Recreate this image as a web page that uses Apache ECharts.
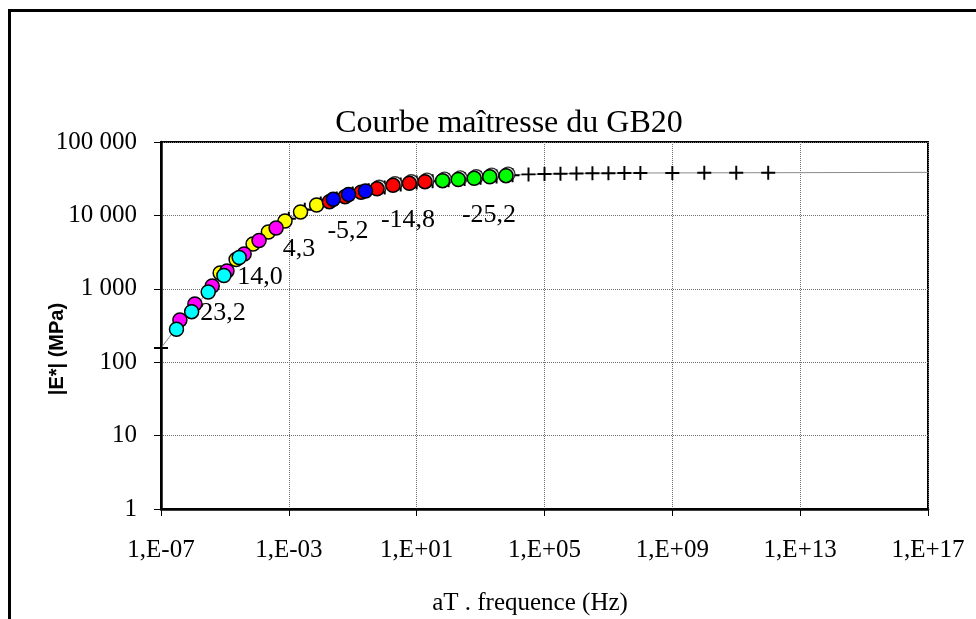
<!DOCTYPE html>
<html>
<head>
<meta charset="utf-8">
<script src="https://cdn.jsdelivr.net/npm/echarts@6/dist/echarts.min.js"></script>
<style>
  html, body { margin: 0; padding: 0; background: #fff; }
  #chart { width: 976px; height: 619px; }
</style>
</head>
<body>
<div id="chart"></div>
<script>
// Courbe maîtresse du GB20 : |E*| (MPa) en fonction de aT . fréquence (Hz)

// Mesures par température d'essai (fréquence réduite en Hz, module en MPa)
const cyanF = [3.05e-7, 9.1e-7, 3.0e-6, 9.3e-6, 2.8e-5];
const cyanE = [281, 488, 904, 1518, 2670];

const magentaF = [3.9e-7, 1.15e-6, 4.0e-6, 1.16e-5, 4.0e-5, 1.17e-4, 4.0e-4];
const magentaE = [376, 621, 1092, 1748, 2980, 4550, 6730];

const yellowF = [7.1e-6, 2.24e-5, 7.6e-5, 2.29e-4, 7.6e-4, 2.32e-3, 7.4e-3];
const yellowE = [1641, 2507, 4077, 5940, 8390, 11130, 13860];

const blueF = [0.0245, 0.074, 0.25];
const blueE = [16570, 19270, 21500];

const redF = [0.0186, 0.0575, 0.182, 0.575, 1.82, 5.9, 18.2];
const redE = [15380, 17990, 20650, 23030, 25700, 27370, 28790];

const greenF = [64.6, 200, 631, 1930, 6240];
const greenE = [29700, 30840, 32000, 33660, 34750];

// Second essai (cercles vides, en arrière-plan)
const repeatF = [0.67, 2.1, 6.8, 21.0, 74.5, 230, 728, 2225, 7200];
const repeatE = [24200, 27000, 28750, 30240, 31200, 32400, 33600, 35360, 36500];

// Modèle (croix + trait fin)
const modelF = [1e-7, 3.16e-7, 1e-6, 3.16e-6, 1e-5, 3.16e-5, 1e-4, 3.16e-4, 1e-3, 3.16e-3,
  1e-2, 3.16e-2, 1e-1, 3.16e-1, 1, 3.16, 10, 31.6, 100, 316, 1e3, 3.16e3, 1e4, 3.16e4,
  1e5, 3.16e5, 1e6, 3.16e6, 1e7, 3.16e7, 1e8, 1e9, 1e10, 1e11, 1e12, 1e17];
const modelE = [156, 300, 540, 930, 1580, 2700, 4300, 6350, 9000, 11900,
  14500, 17000, 19900, 22000, 24000, 26400, 28000, 29200, 30200, 31300, 32600, 34000, 35300, 36200,
  36700, 37000, 37300, 37500, 37600, 37700, 37800, 37900, 38000, 38100, 38150, 38600];
const modelMarkerMaxF = 1e12;

// Étiquettes de température
const tempLabels = ['23,2', '14,0', '4,3', '-5,2', '-14,8', '-25,2'];

// Graduations
const xTickStep = 4;
const yTickStep = 1;

const serif = "'Times New Roman', 'Liberation Serif', serif";

function pairs(fs, es) { return fs.map((f, i) => [f, es[i]]); }

function fmtX(v) {
  const e = Math.round(Math.log10(v));
  const s = Math.abs(e) < 10 ? '0' + Math.abs(e) : '' + Math.abs(e);
  return '1,E' + (e < 0 ? '-' : '+') + s;
}
function fmtY(v) {
  const n = Math.round(v);
  return String(n).replace(/\B(?=(\d{3})+(?!\d))/g, ' ');
}

const plusPath = 'path://M0,4.3H10V5.7H0Z M4.3,0H5.7V10H4.3Z';

function circleSeries(name, fs, es, color) {
  return {
    name, type: 'scatter', data: pairs(fs, es),
    symbol: 'circle', symbolSize: 14,
    itemStyle: { color, borderColor: '#000', borderWidth: 1.5, opacity: 1 },
    emphasis: { disabled: true }, silent: true
  };
}

const modelData = modelF.map((f, i) => {
  const item = { value: [f, modelE[i]] };
  if (f > modelMarkerMaxF) item.symbol = 'none';
  return item;
});

const chart = echarts.init(document.getElementById('chart'), null, { renderer: 'canvas' });

const labelPos = [[223, 313], [260, 277], [299, 249], [348, 231], [408, 220], [489, 215]];

chart.setOption({
  animation: false,
  backgroundColor: '#fff',
  grid: {
    left: 161, right: 48, top: 142, bottom: 110,
    show: true, borderColor: '#000', borderWidth: 2, backgroundColor: 'transparent'
  },
  xAxis: {
    type: 'log', logBase: 10, min: 1e-7, max: 1e17, interval: xTickStep,
    axisLine: { show: true, onZero: false, lineStyle: { color: '#000', width: 2.5 } },
    axisTick: { show: true, length: 7, lineStyle: { color: '#000', width: 1 } },
    minorTick: { show: false },
    axisLabel: { formatter: fmtX, fontFamily: serif, fontSize: 25, color: '#000', margin: 29 },
    splitLine: { show: true, lineStyle: { type: 'dotted', color: '#6e6e6e', width: 1 } }
  },
  yAxis: {
    type: 'log', logBase: 10, min: 1, max: 100000, interval: yTickStep,
    axisLine: { show: true, onZero: false, lineStyle: { color: '#000', width: 2.5 } },
    axisTick: { show: true, length: 7, lineStyle: { color: '#000', width: 1 } },
    minorTick: { show: false },
    axisLabel: { formatter: fmtY, fontFamily: serif, fontSize: 25, color: '#000', margin: 24 },
    splitLine: { show: true, lineStyle: { type: 'dotted', color: '#6e6e6e', width: 1 } }
  },
  series: [
    {
      name: 'modèle', type: 'line', data: modelData,
      symbol: plusPath, symbolSize: 14, showSymbol: true,
      lineStyle: { color: '#8a8a8a', width: 1 },
      itemStyle: { color: '#000' },
      emphasis: { disabled: true }, silent: true, z: 2
    },
    {
      name: 'essai 2', type: 'scatter', data: pairs(repeatF, repeatE),
      symbol: 'circle', symbolSize: 14,
      itemStyle: { color: '#fff', borderColor: '#000', borderWidth: 1.3 },
      emphasis: { disabled: true }, silent: true, z: 2
    },
    circleSeries('4,3', yellowF, yellowE, '#ffff00'),
    circleSeries('14,0', magentaF, magentaE, '#ff00ff'),
    circleSeries('23,2', cyanF, cyanE, '#00ffff'),
    circleSeries('-14,8', redF, redE, '#ff0000'),
    circleSeries('-5,2', blueF, blueE, '#0000ff'),
    circleSeries('-25,2', greenF, greenE, '#00ff00')
  ],
  graphic: [
    {
      type: 'rect', silent: true, z: 100,
      shape: { x: 9.5, y: 10.5, width: 1100, height: 800 },
      style: { fill: 'none', stroke: '#000', lineWidth: 3 }
    },
    {
      type: 'text', x: 509, y: 124, silent: true,
      style: { text: 'Courbe maîtresse du GB20', font: '32px ' + serif, fill: '#000',
        align: 'center', verticalAlign: 'middle' }
    },
    {
      type: 'text', x: 530, y: 603, silent: true,
      style: { text: 'aT . frequence (Hz)', font: '25px ' + serif, fill: '#000',
        align: 'center', verticalAlign: 'middle' }
    },
    {
      type: 'text', x: 57, y: 349, rotation: Math.PI / 2, silent: true,
      style: { text: '|E*| (MPa)', font: "bold 20px 'Liberation Sans', Arial, sans-serif", fill: '#000',
        align: 'center', verticalAlign: 'middle' }
    }
  ].concat(tempLabels.map((t, i) => ({
    type: 'text', x: labelPos[i][0], y: labelPos[i][1], silent: true, z: 50,
    style: { text: t, font: '26px ' + serif, fill: '#000', align: 'center', verticalAlign: 'middle' }
  })))
});
</script>
</body>
</html>
